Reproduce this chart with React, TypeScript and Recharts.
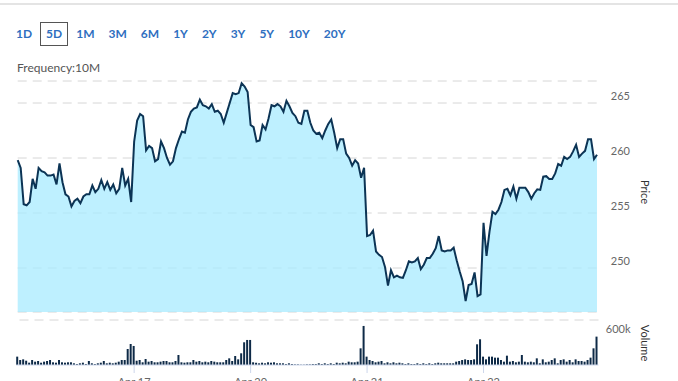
import React from "react";
import { AreaChart, Area, BarChart, Bar, XAxis, YAxis, CartesianGrid, ReferenceLine } from "recharts";

// 10-minute bars, 39 per session
const days = ["Apr 16", "Apr 17", "Apr 20", "Apr 21", "Apr 22"];

const priceApr16 = [259.8, 259.1, 255.8, 255.7, 256.0, 258.1, 257.2, 259.1, 258.8, 258.7, 258.4, 258.4, 258.5, 257.6, 259.5, 257.8, 256.7, 256.5, 255.6, 256.1, 256.3, 255.9, 256.5, 256.7, 256.7, 257.5, 256.9, 257.2, 258.0, 257.2, 257.8, 257.1, 257.6, 256.8, 257.2, 259.1, 257.5, 258.1, 256.0];
const priceApr17 = [261.5, 263.4, 264.0, 263.8, 260.7, 261.1, 260.9, 259.7, 259.9, 261.5, 260.9, 260.0, 259.4, 259.7, 260.9, 261.7, 262.4, 262.3, 263.5, 264.2, 264.5, 264.6, 265.3, 264.8, 264.7, 264.5, 264.9, 264.2, 264.3, 264.0, 263.2, 264.1, 265.0, 265.9, 265.8, 265.9, 266.8, 266.5, 266.0];
const priceApr20 = [263.0, 262.8, 261.5, 261.6, 263.0, 262.6, 263.6, 264.8, 264.7, 264.9, 264.7, 264.2, 265.2, 264.7, 264.1, 263.8, 263.2, 263.1, 264.3, 264.3, 263.2, 262.5, 262.2, 262.3, 261.8, 262.5, 263.1, 263.5, 262.3, 260.9, 261.7, 261.7, 260.4, 260.0, 259.3, 259.8, 259.5, 258.2, 259.1];
const priceApr21 = [252.9, 253.0, 253.4, 251.5, 251.2, 251.0, 250.1, 248.4, 249.8, 249.15, 249.3, 249.15, 249.1, 249.8, 250.6, 250.5, 250.6, 250.9, 249.9, 250.3, 250.9, 250.9, 251.3, 251.8, 252.9, 251.6, 251.5, 251.6, 251.6, 251.85, 250.7, 249.7, 248.8, 247.0, 248.45, 248.55, 249.6, 247.45, 247.6];
const priceApr22 = [254.1, 251.1, 253.3, 255.1, 254.9, 255.3, 256.0, 257.1, 257.2, 256.6, 257.4, 256.3, 257.3, 257.3, 257.3, 256.9, 256.3, 256.8, 257.15, 257.1, 258.3, 258.35, 258.1, 258.1, 258.6, 259.45, 259.3, 260.1, 259.9, 260.1, 260.6, 261.2, 260.1, 260.4, 260.65, 261.7, 261.7, 259.9, 260.3];

// volume in thousands of shares
const volApr16 = [173, 104, 117, 89, 48, 104, 69, 83, 48, 69, 83, 104, 56, 48, 104, 56, 48, 56, 56, 35, 21, 35, 48, 21, 83, 35, 21, 35, 48, 83, 35, 48, 35, 48, 69, 104, 104, 331, 435];
const volApr17 = [394, 89, 104, 56, 124, 69, 83, 56, 56, 69, 83, 83, 56, 56, 83, 207, 56, 48, 56, 56, 104, 69, 83, 56, 69, 56, 83, 69, 56, 56, 56, 104, 138, 83, 186, 117, 242, 470, 518];
const volApr20 = [518, 56, 48, 35, 48, 35, 56, 48, 56, 35, 35, 35, 21, 35, 21, 13, 13, 7, 7, 13, 13, 21, 21, 35, 21, 35, 21, 35, 21, 48, 35, 48, 35, 69, 56, 56, 69, 345, 808];
const volApr21 = [173, 104, 83, 56, 69, 83, 35, 56, 35, 56, 35, 48, 35, 21, 35, 21, 21, 35, 21, 35, 21, 35, 21, 35, 48, 35, 35, 35, 35, 35, 69, 83, 104, 117, 104, 104, 117, 428, 532];
const volApr22 = [173, 117, 173, 173, 152, 152, 104, 69, 193, 69, 83, 56, 69, 207, 69, 56, 69, 56, 138, 35, 117, 56, 69, 104, 138, 35, 104, 117, 69, 104, 56, 117, 83, 83, 69, 104, 152, 345, 587];

const priceTicks = [250, 255, 260, 265];
const volumeTicks = [600];
const ranges = ["1D", "5D", "1M", "3M", "6M", "1Y", "2Y", "3Y", "5Y", "10Y", "20Y"];
const activeRange = "5D";

const prices = [priceApr16, priceApr17, priceApr20, priceApr21, priceApr22];
const volumes = [volApr16, volApr17, volApr20, volApr21, volApr22];

const data = days.flatMap((day, d) =>
  prices[d].map((p, s) => ({ idx: d * 39 + s, day, slot: s, price: p, volume: volumes[d][s] }))
);
const dayStarts = data.filter((r) => r.slot === 0 && r.idx > 0).map((r) => r.idx);

const FONT = "Lato, 'Open Sans', sans-serif";

const PriceTick = (props: any) => {
  const { x, y, payload } = props;
  return (
    <text x={x + 33} y={y - 3} textAnchor="end" fontSize={11} fill="#666" fontFamily={FONT}>
      {payload.value}
    </text>
  );
};

const VolumeTick = (props: any) => {
  const { x, y, payload } = props;
  return (
    <text x={x + 32} y={y - 3} textAnchor="end" fontSize={11} fill="#666" fontFamily={FONT}>
      {payload.value}k
    </text>
  );
};

const sideLabel: React.CSSProperties = {
  position: "absolute",
  fontSize: 11,
  color: "#333",
  fontFamily: FONT,
  transform: "translate(-50%, -50%) rotate(90deg)",
  whiteSpace: "nowrap",
};

export default function App() {
  return (
    <div style={{ position: "absolute", left: 0, top: 0, width: 678, height: 381, overflow: "hidden", background: "#fff", fontFamily: FONT }}>
      <div style={{ position: "absolute", left: 0, top: 3, width: 678, height: 2, background: "#e4e4e4" }} />
      <div style={{ position: "absolute", left: 10, top: 22, display: "flex" }}>
        {ranges.map((r) => (
          <div
            key={r}
            style={{
              padding: "3px 5px",
              marginRight: 2,
              lineHeight: "16px",
              fontSize: 12,
              fontWeight: 700,
              color: "#2f6fbf",
              border: r === activeRange ? "1px solid #555" : "1px solid transparent",
            }}
          >
            {r}
          </div>
        ))}
      </div>
      <div style={{ position: "absolute", left: 17, top: 61, fontSize: 12, color: "#555", lineHeight: "14px" }}>Frequency:10M</div>

      <div style={{ position: "absolute", left: 0, top: 0 }}>
        <AreaChart width={678} height={330} data={data} margin={{ top: 81, right: 41, bottom: 18, left: 17.7 }}>
          <CartesianGrid vertical={false} stroke="#d6d6d6" strokeDasharray="9 6" />
          <XAxis dataKey="idx" hide />
          <YAxis
            orientation="right"
            width={40}
            domain={[246, 267]}
            ticks={priceTicks}
            allowDataOverflow
            axisLine={false}
            tickLine={false}
            tickSize={0}
            tickMargin={0}
            tick={PriceTick}
          />
          <Area
            type="linear"
            dataKey="price"
            stroke="#0c3455"
            strokeWidth={2}
            fill="#a8ebff"
            fillOpacity={0.75}
            dot={false}
            activeDot={false}
            isAnimationActive={false}
          />
        </AreaChart>
      </div>

      <div style={{ position: "absolute", left: 0, top: 0 }}>
        <BarChart width={678} height={400} data={data} margin={{ top: 320, right: 39.5, bottom: 5, left: 16.2 }} barCategoryGap={0}>
          <XAxis
            dataKey="idx"
            ticks={dayStarts}
            interval={0}
            tickFormatter={(v: number) => data[v].day}
            height={30}
            tickSize={8}
            tickMargin={5}
            axisLine={{ stroke: "#ccd6eb" }}
            tickLine={{ stroke: "#ccd6eb" }}
            tick={{ fontSize: 11, fill: "#666", fontFamily: FONT }}
          />
          <YAxis
            orientation="right"
            width={40}
            domain={[0, 931]}
            ticks={volumeTicks}
            allowDataOverflow
            axisLine={false}
            tickLine={false}
            tickSize={0}
            tickMargin={0}
            tick={VolumeTick}
          />
          <ReferenceLine y={931} stroke="#d6d6d6" strokeDasharray="9 6" />
          <Bar dataKey="volume" fill="#0e2a47" barSize={2} isAnimationActive={false} />
        </BarChart>
      </div>

      <div style={{ ...sideLabel, left: 645, top: 192 }}>Price</div>
      <div style={{ ...sideLabel, left: 645, top: 343 }}>Volume</div>
    </div>
  );
}
